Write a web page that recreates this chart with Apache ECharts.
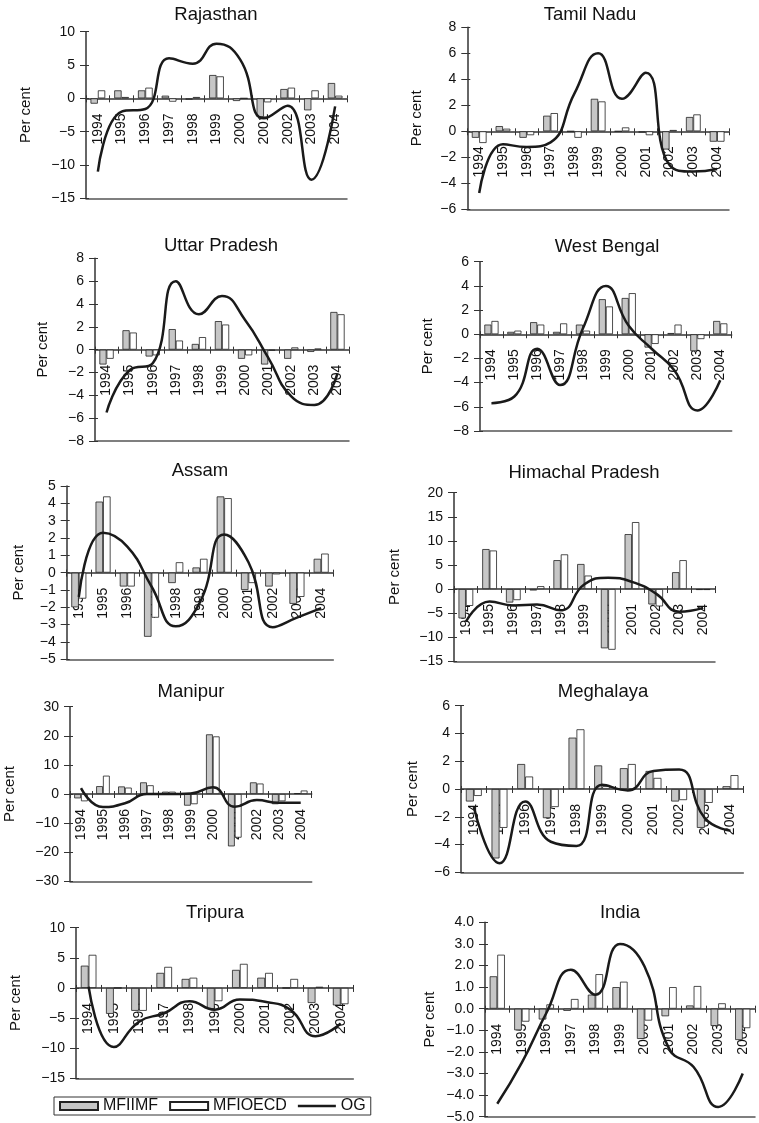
<!DOCTYPE html>
<html><head><meta charset="utf-8">
<script src="https://cdn.jsdelivr.net/npm/echarts@6/dist/echarts.min.js"></script>
<style>html,body{margin:0;padding:0;background:#fff}#c{width:759px;height:1123px}</style>
</head><body><div id="c"></div>
<script>
const years = ['1994','1995','1996','1997','1998','1999','2000','2001','2002','2003','2004'];
const seriesNames = ['MFIIMF','MFIOECD','OG'];
const yName = 'Per cent';

const rajasthanIMF  = [-0.8, 1.2, 1.2, 0.4, -0.2, 3.5, -0.4, -2.8, 1.4, -1.8, 2.3];
const rajasthanOECD = [1.2, 0.2, 1.6, -0.5, 0.2, 3.3, 0.0, -0.6, 1.6, 1.2, 0.4];
const rajasthanOG   = [-11, -2, -1.6, 6, 5.2, 8.2, 5.8, -3, -1.1, -12.2, -1.2];
const rajasthanTicks = [-15, 10, 5, 0];

const tamilIMF  = [-0.5, 0.4, -0.5, 1.2, 0, 2.5, 0, -0.1, -1.4, 1.1, -0.8];
const tamilOECD = [-0.9, 0.2, -0.3, 1.4, -0.5, 2.3, 0.3, -0.3, 0.1, 1.3, -0.8];
const tamilOG   = [-4.75, -1.0, -1.2, -0.85, 2.9, 6.0, 2.5, 4.5, -2.6, -3.1, -2.9];
const tamilTicks = [-6, 8, 2, 0];

const upIMF  = [-1.3, 1.7, -0.6, 1.8, 0.5, 2.5, -0.8, -1.3, -0.8, -0.2, 3.3];
const upOECD = [-0.8, 1.5, -0.5, 0.8, 1.1, 2.2, -0.5, -0.1, 0.2, 0.1, 3.1];
const upOG   = [-5.5, -1.8, -1.2, 6.0, 3.1, 4.7, 2.6, -0.7, -4.1, -4.85, -2.1];
const upTicks = [-8, 8, 2, 0];

const wbIMF  = [0.8, 0.2, 1.0, 0.2, 0.8, 2.9, 3.0, -1.1, 0.1, -1.4, 1.1];
const wbOECD = [1.1, 0.3, 0.8, 0.9, 0.3, 2.3, 3.4, -0.8, 0.8, -0.4, 0.9];
const wbOG   = [-5.7, -5.15, -1.2, -4.2, 0.5, 4.0, 0.7, -1.2, -3.0, -6.3, -3.8];
const wbTicks = [-8, 6, 2, 0];

const assamIMF  = [-2.0, 4.1, -0.8, -3.7, -0.6, 0.3, 4.4, -1.0, -0.8, -1.8, 0.8];
const assamOECD = [-1.5, 4.4, -0.8, -2.6, 0.6, 0.8, 4.3, -0.6, -0.1, -1.4, 1.1];
const assamOG   = [-1.4, 2.3, 1.5, -0.8, -3.1, -1.7, 2.2, 0.6, -3.15, -2.6, -2.05];
const assamTicks = [-5, 5, 1, 0];

const hpIMF  = [-6.1, 8.3, -2.8, -0.3, 6.0, 5.2, -12.3, 11.4, -3.2, 3.5, -0.2];
const hpOECD = [-3.5, 8.0, -2.3, 0.6, 7.2, 2.8, -12.6, 13.9, -3.6, 6.0, -0.2];
const hpOG   = [-6.8, -2.6, -3.4, -3.2, -4.4, 1.0, 2.35, 1.5, -0.9, -4.7, -3.9];
const hpTicks = [-15, 20, 5, 0];

const manipurIMF  = [-1.5, 2.7, 2.6, 4.0, 0.8, -4.0, 20.5, -18.0, 4.0, -3.5, 0.3];
const manipurOECD = [-2.5, 6.3, 2.2, 3.0, 0.8, -3.5, 19.8, -15.0, 3.6, -2.5, 1.2];
const manipurOG   = [2.0, -4.5, -3.2, 0, 0, 0.2, 2.3, -4.4, -2.1, -3.0, -3.0];
const manipurTicks = [-30, 30, 10, 0];

const meghIMF  = [-0.9, -5.0, 1.8, -2.1, 3.7, 1.7, 1.5, 1.3, -0.9, -2.8, 0.2];
const meghOECD = [-0.5, -2.8, 0.9, -1.3, 4.3, 0.2, 1.8, 0.8, -0.8, -1.0, 1.0];
const meghOG   = [-1.3, -5.35, -0.9, -3.8, -4.1, 0.3, -0.1, 1.3, 1.4, -2.1, -3.0];
const meghTicks = [-6, 6, 2, 0];

const tripuraIMF  = [3.7, -4.3, -3.8, 2.5, 1.5, -3.5, 3.0, 1.7, 0, -2.5, -2.9];
const tripuraOECD = [5.5, 0, -3.8, 3.5, 1.7, -2.2, 4.0, 2.5, 1.5, 0.2, -2.7];
const tripuraOG   = [0.2, -9.8, -5.6, -4.2, -2.2, -3.6, -1.9, -2.3, -3.6, -8.0, -5.9];
const tripuraTicks = [-15, 10, 5, 0];

const indiaIMF  = [1.5, -1.0, -0.5, -0.1, 0.65, 1.0, -1.4, -0.35, 0.15, -0.8, -1.45];
const indiaOECD = [2.5, -0.6, 0.2, 0.45, 1.6, 1.25, -0.55, 1.0, 1.05, 0.25, -0.9];
const indiaOG   = [-4.4, -2.5, -0.2, 1.8, 0.65, 3.0, 1.95, -1.85, -2.7, -4.55, -3.0];
const indiaTicks = [-5, 4, 1, 1];

const panels = [
  {title: 'Rajasthan', imf: rajasthanIMF, oecd: rajasthanOECD, og: rajasthanOG, ticks: rajasthanTicks},
  {title: 'Tamil Nadu', imf: tamilIMF, oecd: tamilOECD, og: tamilOG, ticks: tamilTicks},
  {title: 'Uttar Pradesh', imf: upIMF, oecd: upOECD, og: upOG, ticks: upTicks},
  {title: 'West Bengal', imf: wbIMF, oecd: wbOECD, og: wbOG, ticks: wbTicks},
  {title: 'Assam', imf: assamIMF, oecd: assamOECD, og: assamOG, ticks: assamTicks},
  {title: 'Himachal Pradesh', imf: hpIMF, oecd: hpOECD, og: hpOG, ticks: hpTicks},
  {title: 'Manipur', imf: manipurIMF, oecd: manipurOECD, og: manipurOG, ticks: manipurTicks},
  {title: 'Meghalaya', imf: meghIMF, oecd: meghOECD, og: meghOG, ticks: meghTicks},
  {title: 'Tripura', imf: tripuraIMF, oecd: tripuraOECD, og: tripuraOG, ticks: tripuraTicks},
  {title: 'India', imf: indiaIMF, oecd: indiaOECD, og: indiaOG, ticks: indiaTicks}
];

// layout (pixels)
const layout = [
  {l: 86, r: 347, t: 31.7, b: 198.3, tx: 216, ty: 14.5, gap: 53},
  {l: 467.3, r: 729, t: 27.3, b: 209.3, tx: 590, ty: 15, gap: 43},
  {l: 95, r: 349, t: 258.3, b: 441, tx: 221, ty: 245.5, gap: 44.5},
  {l: 480, r: 731.7, t: 261.7, b: 431, tx: 607, ty: 247, gap: 44.5},
  {l: 66.7, r: 333.3, t: 486, b: 659.3, tx: 200, ty: 471, gap: 40},
  {l: 454, r: 715, t: 492.7, b: 661.3, tx: 584, ty: 472.5, gap: 51.5},
  {l: 70, r: 311.7, t: 706.7, b: 881.3, tx: 191, ty: 692, gap: 52.5},
  {l: 461, r: 743.3, t: 705.7, b: 872.3, tx: 603, ty: 692, gap: 40.5},
  {l: 76, r: 353.3, t: 927.7, b: 1078.3, tx: 215, ty: 912.5, gap: 52.5},
  {l: 485, r: 755, t: 922.3, b: 1116.7, tx: 620, ty: 912.5, gap: 47.5}
];

const FONT = '"Liberation Sans", Arial, Helvetica, sans-serif';
const INK = '#111';
const AX = '#333';
const GREY = '#c6c6c6';
const LINE_ICON = 'path://M0,0L0.01,0L0,0.01Z M0,2.8L38,2.8L38,5.2L0,5.2Z M38,8L37.99,8L38,7.99Z';

const option = {
  animation: false,
  backgroundColor: '#fff',
  textStyle: {fontFamily: FONT},
  title: [], grid: [], xAxis: [], yAxis: [], series: [],
  legend: {
    left: 54, top: 1097, orient: 'horizontal',
    itemWidth: 38, itemHeight: 8, itemGap: 11, padding: [1, 5],
    borderColor: AX, borderWidth: 1, borderRadius: 0,
    textStyle: {fontSize: 16, color: INK, fontFamily: FONT},
    data: [
      {name: seriesNames[0], icon: 'rect'},
      {name: seriesNames[1], icon: 'rect'},
      {name: seriesNames[2], icon: LINE_ICON, itemStyle: {color: '#1a1a1a', borderWidth: 0}}
    ]
  }
};

panels.forEach((p, i) => {
  const L = layout[i];
  const [mn, mx, step, dec] = p.ticks;
  const fmt = v => (v < 0 ? '\u2212' : '') + Math.abs(v).toFixed(dec);
  const h = L.b - L.t;
  const zeroLift = h * (0 - mn) / (mx - mn);
  option.title.push({
    text: p.title, left: L.tx, top: L.ty, textAlign: 'center', textVerticalAlign: 'middle', padding: 0,
    textStyle: {fontSize: 18.5, fontWeight: 'normal', color: INK, fontFamily: FONT}
  });
  option.grid.push({left: L.l, top: L.t, width: L.r - L.l, height: h, containLabel: false, outerBoundsMode: 'none'});
  const yi = option.yAxis.length;
  option.yAxis.push({
    type: 'value', gridIndex: i, min: mn, max: mx, interval: step, position: 'left',
    name: yName, nameLocation: 'middle', nameGap: L.gap, nameMoveOverlap: false,
    nameTextStyle: {fontSize: 15, color: INK, fontFamily: FONT},
    axisLine: {show: true, onZero: false, lineStyle: {color: AX, width: 1.5}},
    axisTick: {show: true, length: 6, lineStyle: {color: AX, width: 1}},
    axisLabel: {fontSize: 14, color: INK, margin: 11, formatter: fmt, fontFamily: FONT},
    splitLine: {show: false}
  });
  option.yAxis.push({
    type: 'value', gridIndex: i, min: mn, max: mx, interval: step, position: 'left',
    axisLine: {show: false, onZero: false},
    axisTick: {show: true, inside: true, length: 3, lineStyle: {color: AX, width: 1}},
    axisLabel: {show: false}, splitLine: {show: false}
  });
  const xi = option.xAxis.length;
  option.xAxis.push({
    type: 'category', gridIndex: i, data: years, position: 'bottom', offset: -zeroLift, boundaryGap: true,
    axisLine: {show: true, onZero: false, lineStyle: {color: AX, width: 1.5}},
    axisTick: {show: true, length: 4, interval: 0, lineStyle: {color: AX, width: 1}},
    axisLabel: {rotate: 90, interval: 0, fontSize: 14, color: INK, margin: 15, fontFamily: FONT, hideOverlap: false},
    splitLine: {show: false}
  });
  option.xAxis.push({
    type: 'category', gridIndex: i, data: years, position: 'bottom', offset: -zeroLift, boundaryGap: true,
    axisLine: {show: false, onZero: false},
    axisTick: {show: true, inside: true, length: 3, interval: 0, lineStyle: {color: AX, width: 1}},
    axisLabel: {show: false}, splitLine: {show: false}
  });
  option.xAxis.push({
    type: 'category', gridIndex: i, data: years, position: 'bottom', boundaryGap: true,
    axisLine: {show: true, onZero: false, lineStyle: {color: '#555', width: 1.5}},
    axisTick: {show: false}, axisLabel: {show: false}, splitLine: {show: false}
  });
  option.series.push({
    name: seriesNames[0], type: 'bar', xAxisIndex: xi, yAxisIndex: yi, data: p.imf,
    barGap: '0%', barCategoryGap: '38%',
    itemStyle: {color: GREY, borderColor: '#222', borderWidth: 0.8}
  });
  option.series.push({
    name: seriesNames[1], type: 'bar', xAxisIndex: xi, yAxisIndex: yi, data: p.oecd,
    barGap: '0%', barCategoryGap: '38%',
    itemStyle: {color: '#fff', borderColor: '#222', borderWidth: 0.8}
  });
  option.series.push({
    name: seriesNames[2], type: 'line', xAxisIndex: xi, yAxisIndex: yi, data: p.og,
    smooth: 0.5, symbol: 'none', showSymbol: false, z: 4,
    lineStyle: {color: '#1a1a1a', width: 2.5}, itemStyle: {color: '#1a1a1a'}
  });
});

const chart = echarts.init(document.getElementById('c'), null, {renderer: 'canvas'});
chart.setOption(option);
</script>
</body></html>
